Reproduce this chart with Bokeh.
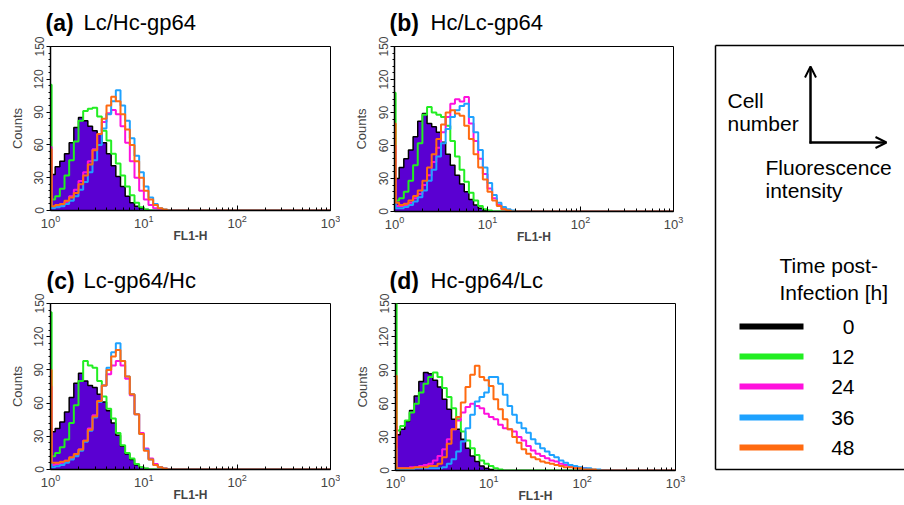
from bokeh.plotting import figure
from bokeh.layouts import row, column
from bokeh.models import Range1d, FixedTicker, Arrow, OpenHead
from bokeh.embed import file_html
from bokeh.resources import INLINE
from bokeh.core.properties import value

# ---------------- data ----------------
# FL1-H channel edges (first channel is the narrow pile-up channel at 10^0)
FL1_EDGES = [1.0, 1.028, 1.122, 1.259, 1.413, 1.585, 1.778, 1.995, 2.239, 2.512, 2.818,
             3.162, 3.548, 3.981, 4.467, 5.012, 5.623, 6.310, 7.079, 7.943, 8.913,
             10.0, 11.22, 12.59, 14.13, 15.85, 17.78, 19.95, 22.39, 25.12, 28.18,
             31.62, 35.48, 39.81, 44.67, 50.12, 56.23, 63.10, 70.79, 79.43, 89.13,
             100.0, 112.2, 125.9, 141.3, 158.5, 177.8, 199.5, 223.9, 251.2, 281.8,
             316.2, 354.8, 398.1, 446.7, 501.2, 562.3, 631.0, 707.9, 794.3, 891.3, 1000.0]

TIMES_H = [0, 12, 24, 36, 48]

# (a) Lc/Hc-gp64
A_0H = [30, 33, 40, 45, 52, 62, 76, 85, 82, 77, 73, 70, 62, 52, 41, 31, 22, 13, 7, 4, 2, 1]
A_12H = [115, 10, 13, 20, 32, 46, 63, 82, 91, 93, 94, 86, 73, 64, 52, 43, 32, 22, 14, 7, 3, 1]
A_24H = [58, 3, 4, 5, 8, 13, 19, 27, 35, 45, 56, 70, 81, 89, 92, 88, 77, 62, 45, 30, 18, 10, 5, 2, 1]
A_36H = [8, 2, 3, 4, 6, 9, 13, 19, 26, 35, 46, 60, 75, 88, 100, 110, 96, 82, 66, 50, 35, 22, 12, 6, 2, 1]
A_48H = [56, 4, 5, 6, 9, 12, 16, 24, 32, 42, 55, 70, 84, 96, 104, 100, 88, 74, 60, 45, 30, 18, 10, 5, 2, 1]

# (b) Hc/Lc-gp64
B_0H = [28, 30, 40, 48, 56, 68, 82, 89, 80, 77, 72, 63, 52, 42, 33, 25, 18, 11, 6, 3, 1]
B_12H = [108, 10, 12, 18, 28, 42, 62, 88, 95, 90, 88, 86, 78, 64, 50, 38, 27, 17, 10, 5, 2, 1]
B_24H = [60, 5, 5, 6, 8, 12, 16, 24, 33, 45, 58, 72, 86, 98, 102, 100, 104, 80, 64, 48, 34, 21, 12, 6, 2, 1]
B_36H = [10, 3, 3, 4, 6, 9, 13, 19, 28, 38, 50, 62, 75, 86, 92, 96, 98, 86, 72, 56, 40, 26, 15, 8, 4, 2, 1]
B_48H = [80, 8, 6, 7, 10, 14, 19, 28, 40, 52, 66, 79, 90, 92, 89, 87, 78, 66, 52, 40, 29, 18, 10, 5, 2, 1]

# (c) Lc-gp64/Hc
C_0H = [32, 34, 37, 43, 52, 65, 78, 87, 80, 76, 74, 68, 61, 53, 42, 31, 21, 14, 9, 4, 2, 1]
C_12H = [142, 12, 15, 20, 27, 42, 58, 80, 98, 94, 92, 80, 66, 55, 46, 33, 22, 15, 10, 5, 2, 1]
C_24H = [75, 4, 5, 6, 8, 10, 13, 18, 26, 37, 49, 62, 76, 86, 94, 98, 94, 82, 67, 50, 33, 19, 10, 5, 2, 1]
C_36H = [10, 2, 3, 4, 6, 9, 12, 17, 25, 35, 47, 61, 76, 92, 106, 114, 98, 84, 68, 50, 32, 18, 9, 4, 2, 1]
C_48H = [90, 6, 6, 7, 8, 11, 14, 18, 26, 36, 48, 62, 76, 90, 102, 108, 98, 84, 68, 50, 32, 17, 9, 4, 2, 1]

# (d) Hc-gp64/Lc
D_0H = [30, 32, 37, 44, 54, 67, 80, 88, 87, 81, 75, 64, 55, 46, 37, 28, 20, 13, 8, 4, 2, 1]
D_12H = [150, 36, 40, 45, 52, 60, 70, 78, 84, 88, 84, 74, 66, 56, 46, 35, 27, 20, 14, 9, 6, 4, 2, 1]
D_24H = [40, 2, 2, 2, 3, 3, 4, 5, 6, 9, 13, 19, 28, 37, 45, 52, 57, 60, 58, 56, 51, 48, 46, 41,
         38, 37, 35, 30, 27, 22, 18, 15, 13, 11, 9, 8, 6, 5, 4, 3, 2, 2, 1]
D_36H = [20, 1, 1, 1, 1, 2, 2, 2, 2, 2, 2, 3, 6, 10, 17, 26, 38, 50, 62, 66, 70, 84, 84, 78,
         68, 58, 50, 43, 38, 34, 28, 24, 20, 17, 14, 12, 9, 7, 5, 4, 3, 2, 2, 1, 1]
D_48H = [85, 2, 2, 2, 2, 3, 3, 3, 4, 4, 6, 12, 24, 37, 48, 61, 75, 86, 94, 84, 81, 76, 64, 55,
         46, 37, 30, 25, 19, 15, 12, 10, 8, 7, 6, 5, 4, 3, 3, 2, 2, 1, 1, 1]

PANEL_TAGS = ["(a)", "(b)", "(c)", "(d)"]
PANEL_NAMES = ["Lc/Hc-gp64", "Hc/Lc-gp64", "Lc-gp64/Hc", "Hc-gp64/Lc"]
PANEL_SERIES = [
    [A_0H, A_12H, A_24H, A_36H, A_48H],
    [B_0H, B_12H, B_24H, B_36H, B_48H],
    [C_0H, C_12H, C_24H, C_36H, C_48H],
    [D_0H, D_12H, D_24H, D_36H, D_48H],
]

# ---------------- styles / layout ----------------
FONT = "Liberation Sans"
LINE_COLORS = ["#000000", "#22ee22", "#ff11dd", "#1ea2ff", "#ff6a10"]
FILL_0H = "#5a00d2"

# w: figure width; th: title strip height; h: plot figure height; borders
GEOM = {
    "(a)": dict(w=340, th=36, h=214, bl=50, br=10, bt=10, bb=40, tag_x=45, name_x=83, mid_y=22),
    "(b)": dict(w=365, th=36, h=214, bl=54, br=32, bt=10, bb=39, tag_x=49, name_x=90, mid_y=22),
    "(c)": dict(w=340, th=43, h=212, bl=50, br=10, bt=10, bb=36, tag_x=46, name_x=83, mid_y=30),
    "(d)": dict(w=365, th=43, h=212, bl=55, br=30, bt=10, bb=34, tag_x=49, name_x=90, mid_y=30),
}

N_BINS = len(FL1_EDGES) - 1


def padded(vals):
    v = list(vals) + [0] * (N_BINS - len(vals))
    return v + [0]


def make_title(tag, name):
    g = GEOM[tag]
    t = figure(width=g["w"], height=g["th"], x_range=Range1d(0, g["w"]),
               y_range=Range1d(g["th"], 0), output_backend="svg", toolbar_location=None,
               min_border=0, x_axis_location=None, y_axis_location=None,
               frame_align=False)
    t.outline_line_color = None
    t.grid.visible = False
    t.text(x=[g["tag_x"]], y=[g["mid_y"]], text=[tag], text_font=value(FONT),
           text_font_size="23px", text_font_style="bold", text_baseline="middle",
           text_color="black")
    t.text(x=[g["name_x"]], y=[g["mid_y"]], text=[name], text_font=value(FONT),
           text_font_size="22px", text_baseline="middle", text_color="black")
    return t


def make_panel(tag, series):
    g = GEOM[tag]
    p = figure(width=g["w"], height=g["h"], x_axis_type="log",
               x_range=Range1d(1, 1000), y_range=Range1d(0, 150),
               output_backend="svg", toolbar_location=None, frame_align=False,
               min_border_left=g["bl"], min_border_right=g["br"],
               min_border_top=g["bt"], min_border_bottom=g["bb"])
    p.grid.visible = False
    p.outline_line_color = "black"
    p.outline_line_width = 1
    p.background_fill_color = "white"
    p.border_fill_color = "white"

    xa = p.xaxis[0]
    xa.ticker = FixedTicker(ticks=[1, 10, 100, 1000],
                            minor_ticks=[m * 10 ** e for e in range(3) for m in range(2, 10)])
    xa.axis_label = "FL1-H"
    xa.axis_label_text_font = FONT
    xa.axis_label_text_font_size = "12px"
    xa.axis_label_text_font_style = "bold"
    xa.axis_label_standoff = -2
    xa.major_label_text_font = FONT
    xa.major_label_text_font_size = "13px"
    xa.major_label_standoff = 4
    xa.major_tick_in = 5
    xa.major_tick_out = 0
    xa.minor_tick_in = 3
    xa.minor_tick_out = 0
    xa.axis_line_width = 1.5

    ya = p.yaxis[0]
    ya.ticker = FixedTicker(ticks=[0, 30, 60, 90, 120, 150],
                            minor_ticks=list(range(0, 151, 6)))
    ya.axis_label = "Counts"
    ya.axis_label_text_font = FONT
    ya.axis_label_text_font_size = "13px"
    ya.axis_label_text_font_style = "normal"
    ya.axis_label_standoff = 7
    ya.major_label_orientation = "vertical"
    ya.major_label_text_font = FONT
    ya.major_label_text_font_size = "12px"
    ya.major_label_standoff = 3
    ya.major_tick_out = 4
    ya.major_tick_in = 0
    ya.minor_tick_out = 2
    ya.minor_tick_in = 0
    ya.axis_line_width = 1.5

    # 0 h: filled histogram with black outline
    base = padded(series[0])
    p.varea_step(x=FL1_EDGES, y1=[0] * len(FL1_EDGES), y2=base,
                 step_mode="after", fill_color=FILL_0H)
    p.step(x=FL1_EDGES, y=base, mode="after", line_color=LINE_COLORS[0], line_width=1.5)
    for vals, col in zip(series[1:], LINE_COLORS[1:]):
        p.step(x=FL1_EDGES, y=padded(vals), mode="after", line_color=col, line_width=2)
    return p


titles = [make_title(t, n) for t, n in zip(PANEL_TAGS, PANEL_NAMES)]
panels = [make_panel(t, s) for t, s in zip(PANEL_TAGS, PANEL_SERIES)]

# ---------------- legend panel ----------------
lg = figure(width=199, height=505, x_range=Range1d(705, 904), y_range=Range1d(505, 0),
            output_backend="svg", toolbar_location=None, min_border=0,
            x_axis_location=None, y_axis_location=None, frame_align=False)
lg.outline_line_color = None
lg.grid.visible = False
lg.background_fill_color = "white"

# box (its right side runs off the page)
lg.segment(x0=[715, 715, 715], y0=[45, 45, 469], x1=[715, 910, 910], y1=[469, 45, 469],
           line_color="black", line_width=1.5)

lg.add_layout(Arrow(end=OpenHead(size=11, line_width=2), x_start=810, y_start=143,
                    x_end=810, y_end=66, line_width=2.5, line_color="black"))
lg.add_layout(Arrow(end=OpenHead(size=11, line_width=2), x_start=809, y_start=142,
                    x_end=886, y_end=142, line_width=2.5, line_color="black"))

lg.text(x=[727, 727, 765, 765, 779, 779], y=[100, 123, 167, 190, 265, 292],
        text=["Cell", "number", "Fluorescence", "intensity", "Time post-", "Infection [h]"],
        text_font=value(FONT), text_font_size="21px", text_baseline="middle",
        text_align="left", text_color="black")

ROWS_Y = [326, 356, 386, 417, 447]
lg.segment(x0=[739] * 5, x1=[803] * 5, y0=ROWS_Y, y1=ROWS_Y,
           line_color=LINE_COLORS, line_width=6)
lg.text(x=[854] * 5, y=ROWS_Y, text=[str(t) for t in TIMES_H],
        text_font=value(FONT), text_font_size="21px", text_baseline="middle",
        text_align="right", text_color="black")

layout = row(column(titles[0], panels[0], titles[2], panels[2]),
             column(titles[1], panels[1], titles[3], panels[3]),
             lg)

open("out.html", "w").write(file_html(layout, INLINE))
